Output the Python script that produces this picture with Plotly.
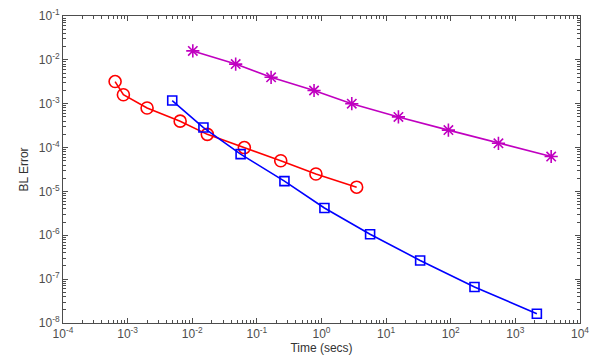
import plotly.graph_objects as go

# Data
red_x = [6.4e-4, 8.6e-4, 2.0e-3, 6.5e-3, 1.71e-2, 6.4e-2, 0.234, 0.82, 3.5]
red_y = [3.2e-3, 1.6e-3, 8.0e-4, 4.0e-4, 2.0e-4, 1.0e-4, 5.0e-5, 2.5e-5, 1.25e-5]

blue_x = [4.9e-3, 1.49e-2, 5.6e-2, 0.267, 1.11, 5.65, 33.6, 233, 2150]
blue_y = [1.18e-3, 2.86e-4, 7.1e-5, 1.72e-5, 4.2e-6, 1.06e-6, 2.67e-7, 6.6e-8, 1.63e-8]

mag_x = [1.02e-2, 4.7e-2, 0.166, 0.767, 2.94, 15.5, 92, 547, 3580]
mag_y = [1.6e-2, 8.0e-3, 4.0e-3, 2.0e-3, 1.0e-3, 5.0e-4, 2.5e-4, 1.25e-4, 6.25e-5]

x_exps = [-4, -3, -2, -1, 0, 1, 2, 3, 4]
y_exps = [-8, -7, -6, -5, -4, -3, -2, -1]

x_tickvals = [10.0 ** e for e in x_exps]
x_ticktext = [f"10<sup>{e}</sup>" for e in x_exps]
y_tickvals = [10.0 ** e for e in y_exps]
y_ticktext = [f"10<sup>{e}</sup>" for e in y_exps]

x_minor = [m * 10.0 ** e for e in x_exps[:-1] for m in range(2, 10)]
y_minor = [m * 10.0 ** e for e in y_exps[:-1] for m in range(2, 10)]

fig = go.Figure()
fig.add_trace(go.Scatter(x=red_x, y=red_y, mode="lines+markers",
                         line=dict(color="#ff0000", width=1.6),
                         marker=dict(symbol="circle-open", size=12, color="#ff0000",
                                     line=dict(width=1.6, color="#ff0000"))))
fig.add_trace(go.Scatter(x=blue_x, y=blue_y, mode="lines+markers",
                         line=dict(color="#0000ff", width=1.6),
                         marker=dict(symbol="square-open", size=9, color="#0000ff",
                                     line=dict(width=1.6, color="#0000ff"))))
fig.add_trace(go.Scatter(x=mag_x, y=mag_y, mode="lines+markers",
                         line=dict(color="#c000c0", width=1.6),
                         marker=dict(symbol="asterisk-open", size=11, color="#c000c0",
                                     line=dict(width=1.6, color="#c000c0"))))

axis_common = dict(
    type="log", showgrid=False, zeroline=False, showline=True, linecolor="#4d4d4d",
    linewidth=1, mirror="ticks", ticks="inside", ticklen=5, tickcolor="#4d4d4d",
    tickfont=dict(family="Liberation Sans, Arial", size=12, color="#4d4d4d"),
    tickmode="array", automargin=False,
)

fig.update_layout(
    width=602, height=363,
    margin=dict(l=63, r=22, t=16, b=40),
    paper_bgcolor="white", plot_bgcolor="white",
    showlegend=False,
    xaxis=dict(**axis_common, range=[-4, 4], tickvals=x_tickvals, ticktext=x_ticktext,
               minor=dict(tickmode="array", tickvals=x_minor, ticks="inside", ticklen=3,
                          tickcolor="#4d4d4d"),
               title=dict(text="Time (secs)", standoff=0,
                          font=dict(family="Liberation Sans, Arial", size=12, color="#333"))),
    yaxis=dict(**axis_common, range=[-8, -1], tickvals=y_tickvals, ticktext=y_ticktext,
               minor=dict(tickmode="array", tickvals=y_minor, ticks="inside", ticklen=3,
                          tickcolor="#4d4d4d"),
               title=dict(text="BL Error", standoff=7,
                          font=dict(family="Liberation Sans, Arial", size=12, color="#333"))),
)

fig.write_html("out.html",
               config={"displayModeBar": False},
               post_script="document.body.style.margin='0';document.body.style.overflow='hidden';")
